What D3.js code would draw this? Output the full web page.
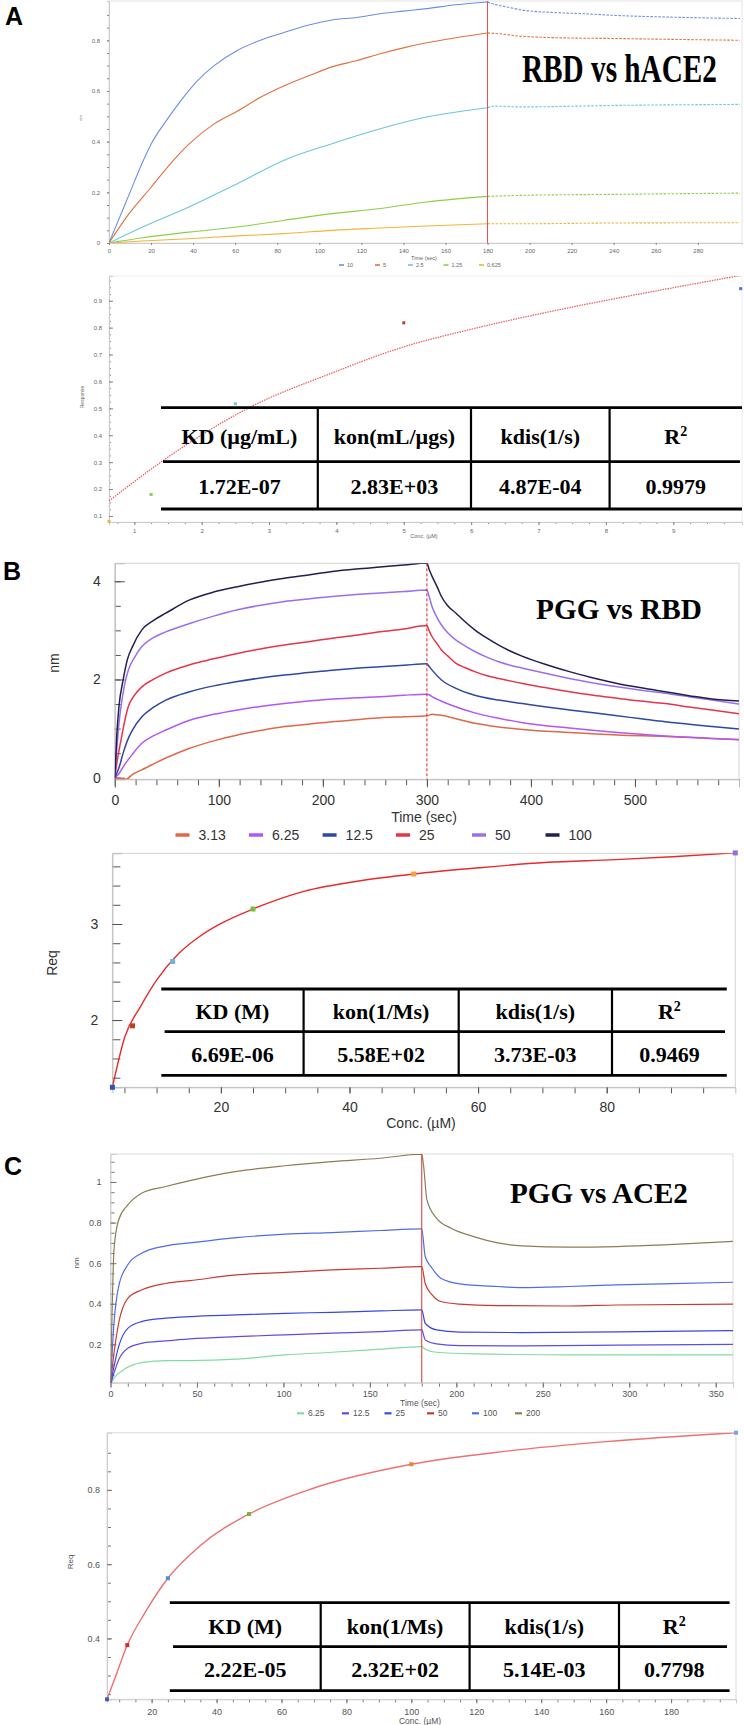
<!DOCTYPE html>
<html><head><meta charset="utf-8">
<script src="https://cdn.jsdelivr.net/npm/d3@7"></script>
<style>body{margin:0;background:#fff}svg{display:block}</style>
</head><body>
<svg id="c" width="744" height="1725"></svg>
<script>
// ---------------- DATA ----------------
// Panel A (RBD vs hACE2) kinetics, [time s, nm]
const aNames = ["10", "5", "2.5", "1.25", "0.625"];
const aSwitch = 180;
const aS10 = [[0,0],[5,0.10],[9,0.18],[16,0.32],[20,0.39],[27,0.48],[34,0.56],[42,0.64],[50,0.70],[61,0.76],[72,0.80],[83,0.83],[95,0.86],[106,0.88],[118,0.89],[129,0.905],[140,0.915],[151,0.925],[165,0.94],[180,0.951],[182,0.945],[190,0.93],[196,0.92],[210,0.91],[225,0.905],[241,0.898],[264,0.892],[280,0.889],[300,0.886]];
const aS5 = [[0,0],[9,0.11],[20,0.22],[30,0.32],[38,0.39],[50,0.47],[61,0.52],[72,0.575],[83,0.62],[95,0.66],[106,0.695],[118,0.72],[129,0.747],[140,0.77],[151,0.79],[165,0.81],[180,0.829],[185,0.826],[196,0.816],[219,0.809],[241,0.807],[264,0.804],[300,0.80]];
const aS25 = [[0,0],[16,0.063],[38,0.142],[61,0.234],[83,0.326],[106,0.392],[129,0.451],[151,0.497],[180,0.534],[183,0.54],[196,0.537],[241,0.543],[300,0.547]];
const aS125 = [[0,0],[16,0.021],[38,0.043],[61,0.063],[83,0.089],[106,0.116],[129,0.136],[151,0.162],[180,0.184],[196,0.188],[241,0.192],[300,0.197]];
const aS0625 = [[0,0],[16,0.008],[38,0.017],[61,0.028],[83,0.037],[106,0.05],[129,0.059],[151,0.067],[180,0.076],[196,0.076],[241,0.079],[300,0.08]];
const aTopXTicks = [0,20,40,60,80,100,120,140,160,180,200,220,240,260,280];
const aTopYTicks = [0,0.2,0.4,0.6,0.8];
// Panel A steady state
const aConc = [0.625, 1.25, 2.5, 5, 10];
const aReq = [0.08, 0.18, 0.517, 0.818, 0.945];
const aFitConc = [0.625, 1.4, 2.74, 3.93, 4.99, 6.05, 7.45, 8.86, 10];
const aFitReq = [0.156, 0.301, 0.507, 0.631, 0.728, 0.797, 0.874, 0.942, 0.994];
const aBotXTicks = [1,2,3,4,5,6,7,8,9];
const aBotYTicks = [0.1,0.2,0.3,0.4,0.5,0.6,0.7,0.8,0.9];
const aHead = ["KD (µg/mL)", "kon(mL/µgs)", "kdis(1/s)", "R2"];
const aVals = ["1.72E-07", "2.83E+03", "4.87E-04", "0.9979"];

// Panel B (PGG vs RBD)
const bNames = ["3.13", "6.25", "12.5", "25", "50", "100"];
const bSwitch = 300;
const bS313 = [[0,0],[5,-0.02],[10.5,-0.03],[18,0.08],[26,0.16],[49,0.40],[72,0.60],[95,0.75],[118,0.87],[140,0.96],[163,1.04],[186,1.09],[209,1.14],[232,1.18],[255,1.22],[278,1.24],[300,1.26],[305,1.29],[310,1.28],[346,1.11],[392,0.98],[437,0.92],[483,0.87],[529,0.84],[574,0.80],[600,0.78]];
const bS625 = [[0,0],[4,0.08],[8,0.22],[17,0.48],[26,0.70],[37,0.85],[49,0.97],[72,1.17],[95,1.29],[118,1.38],[140,1.45],[163,1.51],[186,1.56],[209,1.60],[232,1.63],[255,1.65],[278,1.68],[300,1.70],[302,1.69],[305,1.65],[323,1.48],[346,1.32],[369,1.21],[392,1.12],[437,1.01],[483,0.92],[529,0.85],[574,0.80],[600,0.77]];
const bS125 = [[0,0],[4,0.2],[8,0.5],[12,0.75],[17,0.97],[26,1.24],[37,1.43],[49,1.58],[72,1.75],[95,1.87],[118,1.96],[140,2.03],[163,2.09],[186,2.14],[209,2.19],[232,2.23],[255,2.26],[278,2.29],[300,2.32],[302,2.27],[305,2.19],[314,1.99],[328,1.82],[346,1.68],[369,1.58],[392,1.51],[415,1.44],[437,1.38],[460,1.32],[483,1.26],[506,1.20],[529,1.14],[552,1.09],[574,1.04],[600,0.99]];
const bS25 = [[0,0],[2,0.3],[4,0.55],[6,0.77],[9,1.1],[13,1.45],[19,1.68],[26,1.85],[37,2.0],[49,2.13],[72,2.30],[95,2.42],[118,2.53],[140,2.62],[163,2.70],[186,2.77],[209,2.84],[232,2.90],[255,2.97],[278,3.03],[300,3.10],[302,3.0],[305,2.87],[310,2.72],[314,2.60],[320,2.48],[328,2.33],[337,2.24],[346,2.16],[357,2.08],[369,2.02],[392,1.92],[415,1.83],[437,1.75],[460,1.68],[483,1.62],[506,1.56],[529,1.51],[552,1.44],[574,1.38],[600,1.30]];
const bS50 = [[0,0],[2,0.6],[4,1.1],[6,1.45],[9,1.85],[13,2.19],[19,2.45],[26,2.67],[37,2.85],[49,2.97],[72,3.14],[95,3.29],[118,3.42],[140,3.51],[163,3.59],[186,3.64],[209,3.69],[232,3.73],[255,3.76],[278,3.79],[300,3.82],[302,3.7],[305,3.48],[310,3.25],[314,3.11],[320,2.95],[328,2.80],[337,2.68],[346,2.57],[357,2.46],[369,2.36],[380,2.29],[392,2.23],[415,2.12],[437,2.02],[460,1.93],[483,1.85],[506,1.78],[529,1.72],[552,1.65],[574,1.58],[600,1.50]];
const bS100 = [[0,0],[2,0.9],[4,1.45],[8,1.99],[12,2.4],[17,2.67],[26,3.01],[37,3.2],[49,3.35],[72,3.62],[95,3.78],[118,3.89],[140,3.98],[163,4.06],[186,4.13],[209,4.2],[232,4.25],[255,4.29],[278,4.33],[300,4.37],[302,4.25],[305,4.1],[310,3.88],[314,3.69],[320,3.5],[328,3.35],[337,3.17],[346,3.01],[357,2.85],[369,2.70],[380,2.58],[392,2.47],[415,2.3],[437,2.16],[460,2.03],[483,1.92],[506,1.83],[529,1.75],[552,1.67],[574,1.60],[600,1.56]];
const bTopXTicks = [0,100,200,300,400,500];
const bTopYTicks = [0,2,4];
const bConc = [3.13, 6.25, 12.5, 25, 50, 100];
const bReq = [1.30, 1.94, 2.61, 3.156, 3.52, 3.74];
const bFitConc = [3.13, 5.07, 7.5, 10.06, 13.4, 16.7, 19.6, 25, 32.9, 41.7, 50, 59.3, 70.4, 81.4, 90.2, 100];
const bFitReq = [1.30, 1.826, 2.14, 2.42, 2.69, 2.87, 2.99, 3.156, 3.34, 3.45, 3.52, 3.58, 3.64, 3.67, 3.70, 3.74];
const bBotXTicks = [20,40,60,80];
const bBotYTicks = [2,3];
const bHead = ["KD (M)", "kon(1/Ms)", "kdis(1/s)", "R2"];
const bVals = ["6.69E-06", "5.58E+02", "3.73E-03", "0.9469"];

// Panel C (PGG vs ACE2)
const cNames = ["6.25", "12.5", "25", "50", "100", "200"];
const cSwitch = 180;
const cS625 = [[0,0],[2,0.033],[7.4,0.074],[18,0.11],[32,0.12],[46,0.12],[73,0.127],[101,0.148],[128,0.161],[156,0.176],[180,0.189],[182,0.176],[188.5,0.161],[210,0.153],[265,0.148],[360,0.148]];
const cS125 = [[0,0],[2,0.058],[4.7,0.123],[10,0.181],[18,0.205],[32,0.217],[46,0.227],[73,0.238],[101,0.247],[128,0.255],[156,0.263],[180,0.271],[182,0.222],[188.5,0.202],[202,0.194],[238,0.192],[293,0.196],[360,0.20]];
const cS25 = [[0,0],[2,0.09],[4.7,0.189],[10,0.279],[18,0.312],[32,0.329],[46,0.337],[73,0.345],[101,0.353],[128,0.358],[156,0.365],[180,0.37],[182,0.304],[188.5,0.271],[202,0.26],[238,0.258],[293,0.261],[360,0.268]];
const cS50 = [[0,0],[2,0.156],[4.7,0.304],[10,0.427],[18,0.468],[32,0.50],[46,0.514],[73,0.542],[101,0.555],[128,0.567],[156,0.575],[180,0.583],[182,0.50],[186,0.444],[191,0.411],[202,0.398],[224,0.391],[265,0.389],[293,0.394],[360,0.398]];
const cS100 = [[0,0],[2,0.304],[4.7,0.485],[10,0.592],[18,0.649],[32,0.685],[46,0.70],[73,0.726],[101,0.743],[128,0.751],[156,0.761],[180,0.769],[182,0.633],[186,0.575],[191,0.526],[202,0.498],[224,0.485],[238,0.48],[265,0.485],[293,0.493],[320,0.498],[360,0.506]];
const cS200 = [[0,0],[1,0.39],[2,0.666],[4.7,0.813],[10,0.887],[18,0.945],[32,0.978],[46,1.007],[73,1.052],[101,1.08],[128,1.10],[156,1.117],[180,1.137],[181,1.085],[183,0.912],[188.5,0.822],[197,0.772],[210,0.731],[224,0.70],[238,0.685],[265,0.679],[293,0.682],[320,0.69],[360,0.707]];
const cTopXTicks = [0,50,100,150,200,250,300,350];
const cTopYTicks = [0.2,0.4,0.6,0.8,1];
const cConc = [6.25, 12.5, 25, 50, 100, 200];
const cReq = [0.236, 0.382, 0.562, 0.735, 0.869, 0.954];
const cFitConc = [6.25, 9, 12.5, 18, 25, 35, 50, 70, 100, 130, 160, 200];
const cFitReq = [0.236, 0.30, 0.382, 0.47, 0.562, 0.65, 0.735, 0.805, 0.869, 0.905, 0.93, 0.954];
const cBotXTicks = [20,40,60,80,100,120,140,160,180];
const cBotYTicks = [0.4,0.6,0.8];
const cHead = ["KD (M)", "kon(1/Ms)", "kdis(1/s)", "R2"];
const cVals = ["2.22E-05", "2.32E+02", "5.14E-03", "0.7798"];

// ---------------- DRAWING ----------------
const svg = d3.select("#c");
const SANS = "'Liberation Sans', Arial, sans-serif";
const SERIF = "'Liberation Serif', 'Times New Roman', serif";

function chart(c) {
  const [x0, y0, x1, y1] = c.box;
  const x = d3.scaleLinear().domain(c.xDomain).range([x0, x1]);
  const y = d3.scaleLinear().domain(c.yDomain).range([y1, y0]);
  const g = svg.append("g");
  g.append("clipPath").attr("id", c.id).append("rect")
    .attr("x", x0).attr("y", y0).attr("width", x1 - x0).attr("height", y1 - y0);
  g.append("rect").attr("x", x0).attr("y", y0).attr("width", x1 - x0).attr("height", y1 - y0)
    .attr("fill", "none").attr("stroke", c.frame).attr("stroke-width", 1);

  const style = s => {
    s.attr("font-family", SANS).attr("font-size", c.fs);
    s.selectAll("text").attr("fill", c.text);
    s.selectAll(".tick line").attr("stroke", c.tick);
    s.select(".domain").attr("stroke", c.axis);
  };
  const minorStyle = s => { s.select(".domain").remove(); s.selectAll(".tick line").attr("stroke", c.tick); };
  g.append("g").attr("transform", `translate(${x0},0)`)
    .call(d3.axisLeft(y).tickValues(c.yMinor).tickSize(c.yMinorLen).tickFormat("")).call(minorStyle);
  g.append("g").attr("transform", `translate(0,${y1})`)
    .call(d3.axisBottom(x).tickValues(c.xMinor).tickSize(c.xMinorLen).tickFormat("")).call(minorStyle);
  g.append("g").attr("transform", `translate(${x0},0)`)
    .call(d3.axisLeft(y).tickValues(c.yTicks).tickFormat(String).tickSize(c.yLen).tickPadding(c.yPad)).call(style);
  g.append("g").attr("transform", `translate(0,${y1})`)
    .call(d3.axisBottom(x).tickValues(c.xTicks).tickFormat(String).tickSize(c.xLen).tickPadding(c.xPad)).call(style);

  const plot = g.append("g").attr("clip-path", `url(#${c.id})`);
  const line = d3.line().x(d => x(d[0])).y(d => y(d[1])).curve(d3.curveMonotoneX);

  if (c.series) {
    c.series.forEach(s => {
      if (c.dissDash) {
        const a = s.pts.filter(p => p[0] <= c.sw);
        const d = [a[a.length - 1]].concat(s.pts.filter(p => p[0] > c.sw));
        plot.append("path").attr("d", line(a)).attr("fill", "none").attr("stroke", s.color).attr("stroke-width", c.lw);
        plot.append("path").attr("d", line(d)).attr("fill", "none").attr("stroke", s.color).attr("stroke-width", c.lw)
          .attr("stroke-dasharray", c.dissDash);
      } else {
        plot.append("path").attr("d", line(s.pts)).attr("fill", "none").attr("stroke", s.color).attr("stroke-width", c.lw);
      }
    });
    plot.append("line").attr("x1", x(c.sw)).attr("x2", x(c.sw)).attr("y1", y0).attr("y2", y1)
      .attr("stroke", c.swColor).attr("stroke-width", 1).attr("stroke-dasharray", c.swDash || null);
  }
  if (c.fit) {
    const pts = c.fit.conc.map((v, i) => [v, c.fit.req[i]]);
    plot.append("path").attr("d", line(pts)).attr("fill", "none").attr("stroke", c.fit.color)
      .attr("stroke-width", c.fit.lw).attr("stroke-dasharray", c.fit.dash || null);
    c.points.conc.forEach((v, i) => {
      g.append("rect").attr("x", x(v) - c.points.size / 2).attr("y", y(c.points.req[i]) - c.points.size / 2)
        .attr("width", c.points.size).attr("height", c.points.size).attr("fill", c.points.colors[i]);
    });
  }
  // axis titles
  g.append("text").attr("x", c.xLabel[1]).attr("y", c.xLabel[2]).attr("text-anchor", "middle")
    .attr("font-family", SANS).attr("font-size", c.labFs).attr("fill", c.text).text(c.xLabel[0]);
  g.append("text").attr("transform", `translate(${c.yLabel[1]},${c.yLabel[2]}) rotate(-90)`).attr("text-anchor", "middle")
    .attr("font-family", SANS).attr("font-size", c.yLabFs || c.labFs).attr("fill", c.text).text(c.yLabel[0]);
  // title (horizontally condensed to the measured width)
  if (c.title) {
    const tt = g.append("text").attr("x", 0).attr("y", 0).attr("font-family", SERIF).attr("font-weight", "bold")
      .attr("font-size", c.title.fs).attr("fill", "#000").text(c.title.text);
    const nat = tt.node().getComputedTextLength() || c.title.w;
    tt.attr("transform", `translate(${c.title.x},${c.title.y}) scale(${c.title.w / nat},1)`);
  }
  // legend
  if (c.legend) {
    const L = c.legend;
    c.series.forEach((s, i) => {
      g.append("line").attr("x1", L.xs[i]).attr("x2", L.xs[i] + L.w).attr("y1", L.y).attr("y2", L.y)
        .attr("stroke", s.color).attr("stroke-width", L.h);
      g.append("text").attr("x", L.xs[i] + L.w + L.gap).attr("y", L.y).attr("dy", "0.35em")
        .attr("font-family", SANS).attr("font-size", L.fs).attr("fill", c.text).text(s.name);
    });
  }
  return { x, y };
}

function table(t) {
  const g = svg.append("g");
  const hl = (yy, xa, xb) => g.append("line").attr("x1", xa).attr("x2", xb).attr("y1", yy).attr("y2", yy)
    .attr("stroke", "#000").attr("stroke-width", 2.8);
  hl(t.ys[0], t.x0, t.x1); hl(t.ys[1], t.xm0, t.xm1); hl(t.ys[2], t.x0, t.x1);
  t.cols.forEach(cx => g.append("line").attr("x1", cx).attr("x2", cx).attr("y1", t.ys[0]).attr("y2", t.ys[2])
    .attr("stroke", "#000").attr("stroke-width", 2.2));
  const edges = [t.x0].concat(t.cols, [t.x1]);
  const centers = edges.slice(0, -1).map((e, i) => (e + edges[i + 1]) / 2);
  t.head.forEach((h, i) => {
    const tx = g.append("text").attr("x", centers[i]).attr("y", t.hb).attr("text-anchor", "middle")
      .attr("font-family", SERIF).attr("font-weight", "bold").attr("font-size", 22).attr("fill", "#000");
    if (h === "R2") {
      tx.append("tspan").text("R");
      tx.append("tspan").attr("font-size", 14).attr("dy", -8).text("2");
    } else tx.text(h);
  });
  t.vals.forEach((v, i) => {
    g.append("text").attr("x", centers[i]).attr("y", t.vb).attr("text-anchor", "middle")
      .attr("font-family", SERIF).attr("font-weight", "bold").attr("font-size", 22).attr("fill", "#000").text(v);
  });
}

function letter(s, x, y) {
  svg.append("text").attr("x", x).attr("y", y).attr("font-family", SANS).attr("font-weight", "bold")
    .attr("font-size", 25).attr("fill", "#000").text(s);
}

// ---- Panel A top ----
const aColors = ["#6a8ee6", "#e0703e", "#6cc6dc", "#8ccf46", "#f0b43a"];
chart({
  id: "cA1", box: [109, 1, 742, 243], xDomain: [0, 301], yDomain: [0, 0.955],
  xTicks: aTopXTicks, yTicks: aTopYTicks, xMinor: d3.range(0, 301, 10), yMinor: d3.range(0, 0.95, 0.05),
  xLen: 2, xPad: 4, yLen: 2, yPad: 7, xMinorLen: 1, yMinorLen: 2,
  fs: 6, labFs: 5.5, yLabFs: 4, frame: "#e4e4e4", axis: "#ccc", tick: "#888", text: "#666",
  series: aNames.map((n, i) => ({ name: n, color: aColors[i], pts: [aS10, aS5, aS25, aS125, aS0625][i] })),
  sw: aSwitch, swColor: "#e84a4a", lw: 1.1, dissDash: "2.5,1.5",
  xLabel: ["Time (sec)", 424, 260], yLabel: ["nm", 82, 118],
  title: { text: "RBD vs hACE2", x: 522, y: 81.5, fs: 40, w: 195 },
  legend: { y: 265, xs: [339, 375, 408, 443.5, 479], w: 5, h: 1.6, gap: 3, fs: 5.5 }
});
letter("A", 5, 25);

// ---- Panel A bottom ----
chart({
  id: "cA2", box: [109, 276, 742, 522], xDomain: [0.625, 10.02], yDomain: [0.0776, 0.992],
  xTicks: aBotXTicks, yTicks: aBotYTicks, xMinor: d3.range(0.75, 10, 0.25), yMinor: d3.range(0.1, 0.99, 0.025),
  xLen: 3, xPad: 4, yLen: -4, yPad: 7, xMinorLen: 2, yMinorLen: -2,
  fs: 6, labFs: 5.5, yLabFs: 5, frame: "#eeeeee", axis: "#ccc", tick: "#888", text: "#666",
  fit: { conc: aFitConc, req: aFitReq, color: "#ef6262", lw: 1.3, dash: "1.5,1" },
  points: { conc: aConc, req: aReq, size: 3, colors: ["#f0b43a", "#8ccf46", "#6cc6dc", "#c0401e", "#5070e0"] },
  xLabel: ["Conc. (µM)", 424, 538], yLabel: ["Response", 84, 397]
});
table({ ys: [407.7, 461.7, 509], x0: 161, x1: 742, xm0: 163, xm1: 740, cols: [317.8, 471, 609.6],
  head: aHead, vals: aVals, hb: 444, vb: 494.3 });

// ---- Panel B top ----
const bColors = ["#e06848", "#b157f5", "#2e47a2", "#e8334b", "#9a6ef0", "#1f2050"];
chart({
  id: "cB1", box: [114.8, 563.3, 739, 779.3], xDomain: [0, 600], yDomain: [-0.033, 4.366],
  xTicks: bTopXTicks, yTicks: bTopYTicks, xMinor: d3.range(0, 601, 20), yMinor: d3.range(0, 4.4, 0.5),
  xLen: 8, xPad: 8, yLen: -10, yPad: 14, xMinorLen: 6, yMinorLen: -6,
  fs: 14, labFs: 14, frame: "#d4d4d4", axis: "#bbb", tick: "#555", text: "#333",
  series: bNames.map((n, i) => ({ name: n, color: bColors[i], pts: [bS313, bS625, bS125, bS25, bS50, bS100][i] })),
  sw: bSwitch, swColor: "#e02020", swDash: "3,2", lw: 1.5,
  xLabel: ["Time (sec)", 424, 822], yLabel: ["nm", 59, 663],
  title: { text: "PGG vs RBD", x: 536, y: 619, fs: 29, w: 166 },
  legend: { y: 835, xs: [175.5, 249, 322.6, 396, 472, 545.5], w: 14, h: 3.5, gap: 9, fs: 14 }
});
letter("B", 3, 580);

// ---- Panel B bottom ----
chart({
  id: "cB2", box: [112.4, 853.3, 735.3, 1087.3], xDomain: [3.13, 100], yDomain: [1.30, 3.736],
  xTicks: bBotXTicks, yTicks: bBotYTicks, xMinor: d3.range(5, 100, 5), yMinor: d3.range(1.4, 3.7, 0.2),
  xLen: 6, xPad: 9, yLen: -10, yPad: 14, xMinorLen: 6, yMinorLen: -8,
  fs: 14, labFs: 14, frame: "#d4d4d4", axis: "#bbb", tick: "#555", text: "#333",
  fit: { conc: bFitConc, req: bFitReq, color: "#e82a2a", lw: 1.4 },
  points: { conc: bConc, req: bReq, size: 5, colors: ["#3050c0", "#c0401e", "#72b2e2", "#76c043", "#f2a244", "#9070e0"] },
  xLabel: ["Conc. (µM)", 421, 1128], yLabel: ["Req", 57, 963]
});
table({ ys: [989, 1031.7, 1075.3], x0: 161.3, x1: 726.8, xm0: 164.6, xm1: 725, cols: [303.6, 458.7, 612],
  head: bHead, vals: bVals, hb: 1019, vb: 1061.7 });

// ---- Panel C top ----
const cColors = ["#84dba2", "#5b4fe0", "#3a46e0", "#c83a30", "#4f6ce8", "#8b7d55"];
chart({
  id: "cC1", box: [110.5, 1154, 733, 1382.7], xDomain: [0, 360], yDomain: [0.011, 1.138],
  xTicks: cTopXTicks, yTicks: cTopYTicks, xMinor: d3.range(0, 361, 10), yMinor: d3.range(0.05, 1.13, 0.05),
  xLen: 5, xPad: 3, yLen: -6, yPad: 9, xMinorLen: 4, yMinorLen: -4,
  fs: 9, labFs: 8.5, yLabFs: 8, frame: "#dddddd", axis: "#ccc", tick: "#777", text: "#555",
  series: cNames.map((n, i) => ({ name: n, color: cColors[i], pts: [cS625, cS125, cS25, cS50, cS100, cS200][i] })),
  sw: cSwitch, swColor: "#e03030", lw: 1.2,
  xLabel: ["Time (sec)", 420, 1406], yLabel: ["nm", 79, 1263],
  title: { text: "PGG vs ACE2", x: 510, y: 1202.7, fs: 30, w: 178 },
  legend: { y: 1413.3, xs: [297, 342, 384.5, 427, 472, 515], w: 7, h: 2.2, gap: 4, fs: 8.5 }
});
letter("C", 4, 1175);

// ---- Panel C bottom ----
chart({
  id: "cC2", box: [107, 1432.7, 736, 1699.3], xDomain: [6.25, 200], yDomain: [0.236, 0.954],
  xTicks: cBotXTicks, yTicks: cBotYTicks, xMinor: d3.range(10, 200, 5), yMinor: d3.range(0.25, 0.95, 0.05),
  xLen: 4, xPad: 5, yLen: -5, yPad: 7, xMinorLen: 3, yMinorLen: -4,
  fs: 9, labFs: 8.5, yLabFs: 8, frame: "#dddddd", axis: "#ccc", tick: "#777", text: "#555",
  fit: { conc: cFitConc, req: cFitReq, color: "#f07070", lw: 1.4 },
  points: { conc: cConc, req: cReq, size: 4, colors: ["#4060c0", "#d03030", "#5090d0", "#80b040", "#f08030", "#80a0e0"] },
  xLabel: ["Conc. (µM)", 420, 1724], yLabel: ["Req", 73, 1562]
});
table({ ys: [1602.7, 1646.7, 1690.7], x0: 169.8, x1: 729.6, xm0: 173, xm1: 727, cols: [320.7, 469.6, 619],
  head: cHead, vals: cVals, hb: 1634, vb: 1677.3 });
</script>
</body></html>
